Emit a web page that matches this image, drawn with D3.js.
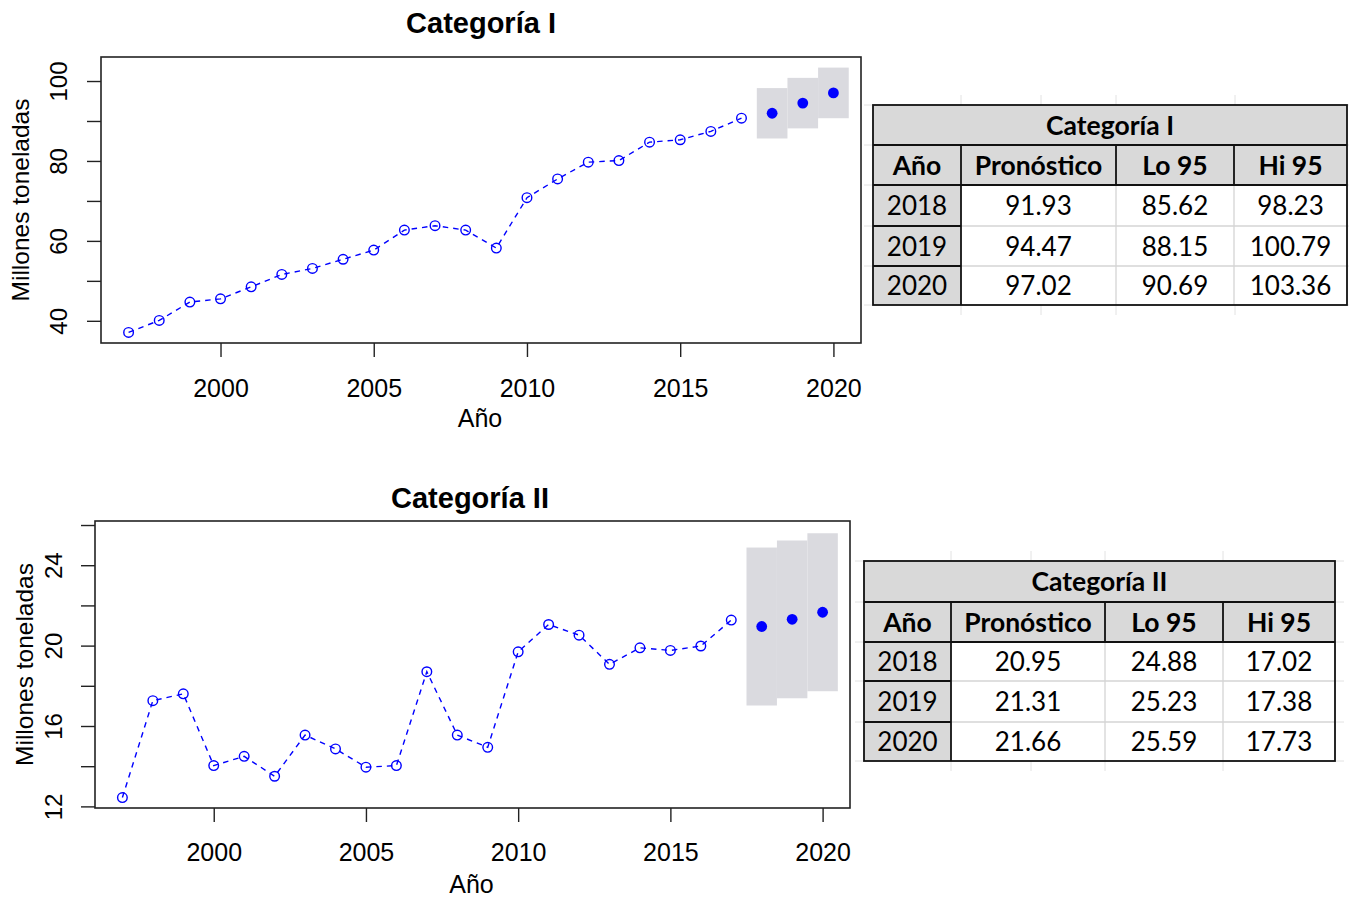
<!DOCTYPE html>
<html>
<head>
<meta charset="utf-8">
<script src="https://cdn.jsdelivr.net/npm/d3@7"></script>
<style>
  body { margin: 0; background: #fff; }
  svg { display: block; }
  .chart text { font-family: "Liberation Sans", Arial, sans-serif; fill: #000; }
  .tbl text { font-family: Lato, "Open Sans", sans-serif; fill: #000; }
</style>
</head>
<body>
<script>
const years = [1997, 1998, 1999, 2000, 2001, 2002, 2003, 2004, 2005, 2006, 2007,
               2008, 2009, 2010, 2011, 2012, 2013, 2014, 2015, 2016, 2017];
const cat1Values = [37.1, 40.1, 44.7, 45.5, 48.5, 51.6, 53.1, 55.4, 57.7, 62.7, 63.8,
                    62.7, 58.2, 70.8, 75.5, 79.7, 80.1, 84.7, 85.3, 87.4, 90.7];
const cat2Values = [12.44, 17.26, 17.6, 14.03, 14.49, 13.5, 15.55, 14.86, 13.95, 14.03, 18.7,
                    15.55, 14.94, 19.69, 21.05, 20.52, 19.07, 19.89, 19.76, 19.98, 21.27];

// forecasts (tables)
const forecastYears = [2018, 2019, 2020];
const cat1Forecast = [91.93, 94.47, 97.02];
const cat1Lo = [85.62, 88.15, 90.69];
const cat1Hi = [98.23, 100.79, 103.36];
const cat2Forecast = [20.95, 21.31, 21.66];
const cat2Lo = [24.88, 25.23, 25.59];
const cat2Hi = [17.02, 17.38, 17.73];

const xTicks = [2000, 2005, 2010, 2015, 2020];
const cat1YTicks = [40, 50, 60, 70, 80, 90, 100];
const cat1YLabels = [40, 60, 80, 100];
const cat2YTicks = [12, 14, 16, 18, 20, 22, 24, 26];
const cat2YLabels = [12, 16, 20, 24];
const tableHeader = ["Año", "Pronóstico", "Lo 95", "Hi 95"];

const svg = d3.select("body").append("svg")
  .attr("width", 1349)
  .attr("height", 899);

function drawPanel(p) {
  const g = svg.append("g").attr("class", "chart");

  const x = d3.scaleLinear().domain([1996.1, 2020.9]).range([p.left, p.right]);
  const y = d3.scaleLinear().domain(p.yDomain).range([p.bottom, p.top]);

  // forecast bands, one year wide each
  g.selectAll("rect.band")
    .data(forecastYears.map((yr, i) => ({ yr: yr, a: p.lo[i], b: p.hi[i] })))
    .enter().append("rect")
    .attr("class", "band")
    .attr("x", d => x(d.yr - 0.5))
    .attr("width", d => x(d.yr + 0.5) - x(d.yr - 0.5))
    .attr("y", d => y(Math.max(d.a, d.b)))
    .attr("height", d => y(Math.min(d.a, d.b)) - y(Math.max(d.a, d.b)))
    .attr("fill", "#dadadf");

  const pts = years.map((yr, i) => [yr, p.values[i]]);
  const line = d3.line().x(d => x(d[0])).y(d => y(d[1]));

  g.append("path")
    .datum(pts)
    .attr("d", line)
    .attr("fill", "none")
    .attr("stroke", "#0000ff")
    .attr("stroke-width", 1.4)
    .attr("stroke-dasharray", "5.5,5");

  g.selectAll("circle.obs")
    .data(pts)
    .enter().append("circle")
    .attr("class", "obs")
    .attr("cx", d => x(d[0]))
    .attr("cy", d => y(d[1]))
    .attr("r", 4.8)
    .attr("fill", "none")
    .attr("stroke", "#0000ff")
    .attr("stroke-width", 1.4);

  g.selectAll("circle.fc")
    .data(forecastYears.map((yr, i) => [yr, p.forecast[i]]))
    .enter().append("circle")
    .attr("class", "fc")
    .attr("cx", d => x(d[0]))
    .attr("cy", d => y(d[1]))
    .attr("r", 5.4)
    .attr("fill", "#0000ff");

  // box
  g.append("rect")
    .attr("x", p.left).attr("y", p.top)
    .attr("width", p.right - p.left).attr("height", p.bottom - p.top)
    .attr("fill", "none")
    .attr("stroke", "#222")
    .attr("stroke-width", 1.6);

  // x axis
  const xa = g.append("g")
    .attr("transform", `translate(0,${p.bottom})`)
    .call(d3.axisBottom(x).tickValues(xTicks).tickFormat(d3.format("d")).tickSize(14));
  xa.select(".domain").remove();
  xa.selectAll("line").attr("stroke", "#222").attr("stroke-width", 1.4);
  xa.selectAll("text")
    .attr("dy", null)
    .attr("y", p.xLabelDy)
    .attr("font-size", 25)
    .attr("font-family", null)
    .attr("fill", "#111");

  // y axis
  const ya = g.append("g")
    .attr("transform", `translate(${p.left},0)`)
    .call(d3.axisLeft(y).tickValues(p.yTicks)
      .tickFormat(d => p.yLabels.includes(d) ? d : "").tickSize(14));
  ya.select(".domain").remove();
  ya.selectAll("line").attr("stroke", "#222").attr("stroke-width", 1.4);
  ya.selectAll("text")
    .attr("x", null).attr("dy", null)
    .attr("text-anchor", "middle")
    .attr("transform", `translate(${-p.yLabelDx},0) rotate(-90)`)
    .attr("font-size", 24)
    .attr("font-family", null)
    .attr("fill", "#111");

  g.append("text")
    .attr("transform", `translate(${p.yTitleX},${(p.top + p.bottom) / 2}) rotate(-90)`)
    .attr("text-anchor", "middle")
    .attr("font-size", 24.5)
    .attr("fill", "#111")
    .text("Millones toneladas");

  g.append("text")
    .attr("x", (p.left + p.right) / 2 - 1)
    .attr("y", p.xTitleY)
    .attr("text-anchor", "middle")
    .attr("font-size", 25)
    .attr("fill", "#111")
    .text("Año");

  g.append("text")
    .attr("x", p.titleX)
    .attr("y", p.titleY)
    .attr("text-anchor", "middle")
    .attr("font-size", 29)
    .attr("font-weight", "bold")
    .text(p.title);
}

function drawTable(t) {
  const g = svg.append("g").attr("class", "tbl");
  const cx = t.cols, ry = t.rows;
  const L = cx[0], R = cx[cx.length - 1], T = ry[0], B = ry[ry.length - 1];
  const faint = "#e2e2e2";

  // excel gridline stubs outside the table
  t.stubs.forEach(sx => {
    g.append("line").attr("x1", sx).attr("x2", sx).attr("y1", T - 10).attr("y2", T).attr("stroke", faint);
    g.append("line").attr("x1", sx).attr("x2", sx).attr("y1", B).attr("y2", B + 10).attr("stroke", faint);
  });
  ry.forEach(sy => {
    g.append("line").attr("x1", L - 9).attr("x2", L).attr("y1", sy).attr("y2", sy).attr("stroke", faint);
    g.append("line").attr("x1", R).attr("x2", R + 9).attr("y1", sy).attr("y2", sy).attr("stroke", faint);
  });

  // fills
  g.append("rect").attr("x", L).attr("y", T).attr("width", R - L).attr("height", ry[2] - T).attr("fill", "#d9d9d9");
  g.append("rect").attr("x", L).attr("y", ry[2]).attr("width", cx[1] - L).attr("height", B - ry[2]).attr("fill", "#d9d9d9");
  g.append("rect").attr("x", cx[1]).attr("y", ry[2]).attr("width", R - cx[1]).attr("height", B - ry[2]).attr("fill", "#fff");

  // light inner grid for data cells
  [ry[3], ry[4]].forEach(sy => {
    g.append("line").attr("x1", cx[1]).attr("x2", R).attr("y1", sy).attr("y2", sy).attr("stroke", "#d4d4d4").attr("stroke-width", 1.3);
  });
  [cx[2], cx[3]].forEach(sx => {
    g.append("line").attr("x1", sx).attr("x2", sx).attr("y1", ry[2]).attr("y2", B).attr("stroke", "#d4d4d4").attr("stroke-width", 1.3);
  });

  // black borders
  const blk = (x1, y1, x2, y2) => g.append("line")
    .attr("x1", x1).attr("y1", y1).attr("x2", x2).attr("y2", y2)
    .attr("stroke", "#111").attr("stroke-width", 1.8);
  blk(L, ry[1], R, ry[1]);
  blk(L, ry[2], R, ry[2]);
  blk(L, ry[3], cx[1], ry[3]);
  blk(L, ry[4], cx[1], ry[4]);
  blk(cx[1], ry[1], cx[1], B);
  blk(cx[2], ry[1], cx[2], ry[2]);
  blk(cx[3], ry[1], cx[3], ry[2]);
  g.append("rect").attr("x", L).attr("y", T).attr("width", R - L).attr("height", B - T)
    .attr("fill", "none").attr("stroke", "#111").attr("stroke-width", 1.8);

  const mid = i => (cx[i] + cx[i + 1]) / 2;
  const base = j => (ry[j] + ry[j + 1]) / 2 + 9.5;

  g.append("text").attr("x", (L + R) / 2).attr("y", base(0))
    .attr("text-anchor", "middle").attr("font-size", 26.5).attr("font-weight", "bold")
    .text(t.title);

  tableHeader.forEach((h, i) => {
    g.append("text").attr("x", mid(i)).attr("y", base(1))
      .attr("text-anchor", "middle").attr("font-size", 26.5).attr("font-weight", "bold")
      .text(h);
  });

  forecastYears.forEach((yr, j) => {
    const cells = [String(yr), t.f[j].toFixed(2), t.lo[j].toFixed(2), t.hi[j].toFixed(2)];
    cells.forEach((c, i) => {
      g.append("text").attr("x", mid(i)).attr("y", base(j + 2))
        .attr("text-anchor", "middle").attr("font-size", 26)
        .text(c);
    });
  });
}

drawPanel({
  title: "Categoría I", titleX: 481, titleY: 33,
  left: 101, right: 861, top: 57, bottom: 343,
  yDomain: [34.45, 106.01],
  values: cat1Values, forecast: cat1Forecast, lo: cat1Lo, hi: cat1Hi,
  yTicks: cat1YTicks, yLabels: cat1YLabels,
  xLabelDy: 54, xTitleY: 427, yLabelDx: 34, yTitleX: 28.5
});

drawPanel({
  title: "Categoría II", titleX: 470, titleY: 508,
  left: 95, right: 850, top: 521, bottom: 808,
  yDomain: [11.92, 26.2],
  values: cat2Values, forecast: cat2Forecast, lo: cat2Lo, hi: cat2Hi,
  yTicks: cat2YTicks, yLabels: cat2YLabels,
  xLabelDy: 53, xTitleY: 893, yLabelDx: 33.5, yTitleX: 33
});

drawTable({
  title: "Categoría I",
  cols: [873, 961, 1116, 1234, 1347],
  rows: [105, 145, 185, 226, 266, 305],
  stubs: [961, 1041, 1116, 1235],
  f: cat1Forecast, lo: cat1Lo, hi: cat1Hi
});

drawTable({
  title: "Categoría II",
  cols: [864, 951, 1105, 1223, 1335],
  rows: [561, 602, 642, 681, 722, 761],
  stubs: [951, 1031, 1105, 1223],
  f: cat2Forecast, lo: cat2Lo, hi: cat2Hi
});
</script>
</body>
</html>
